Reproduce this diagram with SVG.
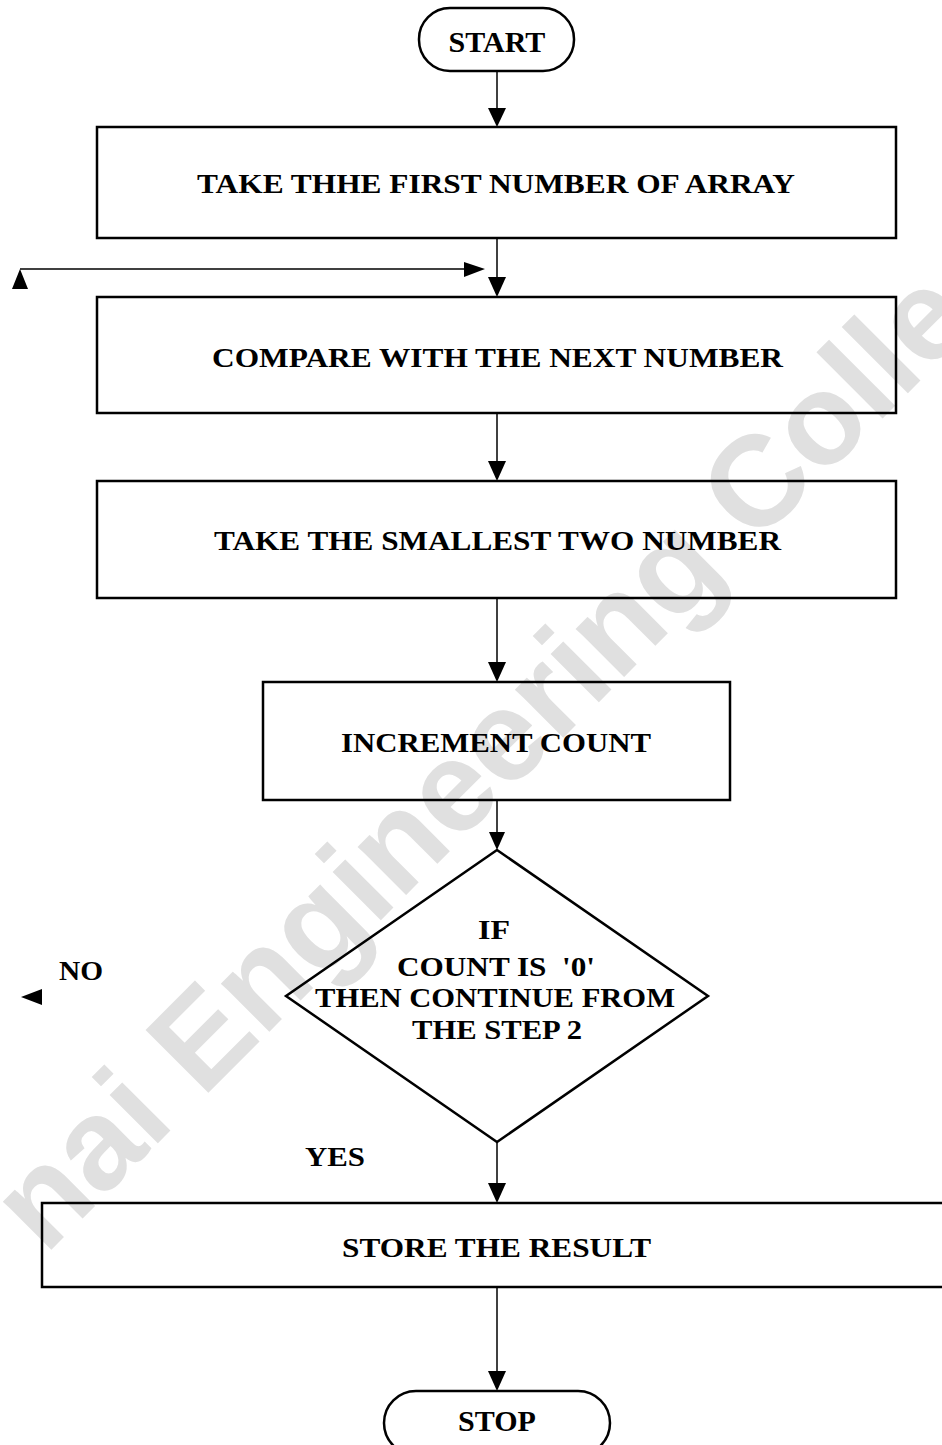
<svg xmlns="http://www.w3.org/2000/svg" width="942" height="1445" viewBox="0 0 942 1445">
<style>
.wm{font-family:"Liberation Sans",Arial,sans-serif;font-weight:bold;font-size:129px;fill:#e0e0e0}
.box{fill:none;stroke:#000;stroke-width:2.5}
.t{font-family:"Liberation Serif","Times New Roman",serif;font-weight:bold;font-size:28px;fill:#000}
.c{text-anchor:middle}
.ln{fill:none;stroke:#000;stroke-width:1.5}
.ah{fill:#000;stroke:none}
</style>
<rect width="942" height="1445" fill="#fff"/>
<g id="watermark">
<text class="wm" x="45" y="1256" transform="rotate(-45 45 1256)">nai Engineering Colle</text>
</g>
<g id="connectors">
<line class="ln" x1="497" y1="71" x2="497" y2="110"/>
<polygon class="ah" points="488,108 506,108 497,127"/>
<line class="ln" x1="497" y1="238" x2="497" y2="279"/>
<polygon class="ah" points="488,277 506,277 497,297"/>
<line class="ln" x1="20" y1="269" x2="466" y2="269"/>
<polygon class="ah" points="464,262 464,277 485,269"/>
<polygon class="ah" points="20,269 12,289 28,289"/>
<line class="ln" x1="497" y1="413" x2="497" y2="463"/>
<polygon class="ah" points="488,461 506,461 497,481"/>
<line class="ln" x1="497" y1="598" x2="497" y2="664"/>
<polygon class="ah" points="488,662 506,662 497,682"/>
<line class="ln" x1="497" y1="800" x2="497" y2="834"/>
<polygon class="ah" points="489,832 505,832 497,850"/>
<polygon class="ah" points="21,997 42,989 42,1005"/>
<line class="ln" x1="497" y1="1142" x2="497" y2="1185"/>
<polygon class="ah" points="488,1183 506,1183 497,1203"/>
<line class="ln" x1="497" y1="1287" x2="497" y2="1373"/>
<polygon class="ah" points="488,1371 506,1371 497,1391"/>
</g>
<g id="start">
<rect class="box" x="419" y="8" width="155" height="63" rx="31" ry="31"/>
<text class="t c" x="497" y="52" style="font-size:30px">START</text>
</g>
<g id="step1">
<rect class="box" x="97" y="127" width="799" height="111"/>
<text class="t" x="197" y="193" textLength="598" lengthAdjust="spacingAndGlyphs">TAKE THHE FIRST NUMBER OF ARRAY</text>
</g>
<g id="step2">
<rect class="box" x="97" y="297" width="799" height="116"/>
<text class="t" x="212" y="367" textLength="571" lengthAdjust="spacingAndGlyphs">COMPARE WITH THE NEXT NUMBER</text>
</g>
<g id="step3">
<rect class="box" x="97" y="481" width="799" height="117"/>
<text class="t" x="214" y="550" textLength="567" lengthAdjust="spacingAndGlyphs">TAKE THE SMALLEST TWO NUMBER</text>
</g>
<g id="step4">
<rect class="box" x="263" y="682" width="467" height="118"/>
<text class="t" x="341" y="752" textLength="310" lengthAdjust="spacingAndGlyphs">INCREMENT COUNT</text>
</g>
<g id="decision">
<polygon class="box" points="497,850 708,996 497,1142 286,996"/>
<text class="t" x="478" y="939" textLength="32" lengthAdjust="spacingAndGlyphs">IF</text>
<text class="t" x="397" y="976" textLength="198" lengthAdjust="spacingAndGlyphs">COUNT IS&#160; '0'</text>
<text class="t" x="315" y="1007" textLength="360" lengthAdjust="spacingAndGlyphs">THEN CONTINUE FROM</text>
<text class="t" x="412" y="1039" textLength="170" lengthAdjust="spacingAndGlyphs">THE STEP 2</text>
</g>
<g id="labels">
<text class="t" x="59" y="980" textLength="44" lengthAdjust="spacingAndGlyphs">NO</text>
<text class="t" x="305" y="1166" textLength="60" lengthAdjust="spacingAndGlyphs">YES</text>
</g>
<g id="store">
<rect class="box" x="42" y="1203" width="910" height="84"/>
<text class="t" x="342" y="1257" textLength="309" lengthAdjust="spacingAndGlyphs">STORE THE RESULT</text>
</g>
<g id="stop">
<rect class="box" x="384" y="1391" width="226" height="64" rx="32" ry="32"/>
<text class="t c" x="497" y="1431" style="font-size:30px">STOP</text>
</g>
</svg>
